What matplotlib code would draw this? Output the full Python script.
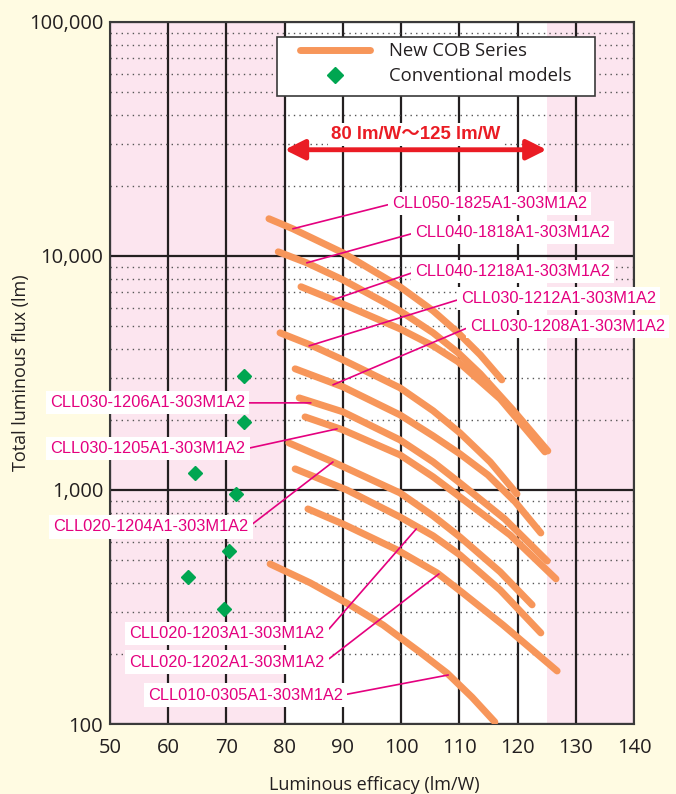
import matplotlib.pyplot as plt
from matplotlib.ticker import FixedLocator, LogLocator, NullFormatter, FuncFormatter
from matplotlib.patches import Rectangle
from matplotlib.lines import Line2D

plt.rcParams['font.family'] = ['Open Sans', 'DejaVu Sans']

# New COB series curves (efficacy lm/W, total flux lm)
curve_names = [
    'CLL050-1825A1-303M1A2', 'CLL040-1818A1-303M1A2', 'CLL040-1218A1-303M1A2',
    'CLL030-1212A1-303M1A2', 'CLL030-1208A1-303M1A2', 'CLL030-1206A1-303M1A2',
    'CLL030-1205A1-303M1A2', 'CLL020-1204A1-303M1A2', 'CLL020-1203A1-303M1A2',
    'CLL020-1202A1-303M1A2', 'CLL010-0305A1-303M1A2',
]
curve_eff = [
    [77.3, 81.4, 90.0, 99.8, 105.5, 109.8, 113.6, 117.3],
    [78.9, 83.8, 90.0, 99.8, 105.5, 109.8, 113.6, 119.2, 125.2],
    [82.8, 88.3, 99.8, 105.5, 109.8, 117.0, 124.7],
    [79.2, 84.4, 90.0, 99.8, 105.5, 110.1, 115.3, 119.9],
    [81.8, 90.0, 99.8, 105.5, 110.1, 114.9, 119.6, 124.0],
    [82.5, 90.0, 99.8, 105.5, 110.1, 117.8, 125.1],
    [83.5, 90.0, 99.8, 105.5, 110.1, 118.7, 126.6],
    [80.7, 88.3, 99.8, 105.5, 110.1, 117.0, 122.5],
    [81.8, 90.7, 99.8, 105.5, 110.1, 117.0, 124.0],
    [84.0, 90.0, 99.3, 106.2, 110.6, 117.5, 126.8],
    [77.5, 84.4, 91.2, 96.9, 103.2, 107.9, 112.2, 116.1],
]
curve_flux = [
    [14430, 13070, 10320, 7390, 5830, 4695, 3780, 2956],
    [10420, 9350, 7910, 5830, 4695, 3857, 3136, 2200, 1469],
    [7390, 6500, 4884, 4130, 3530, 2452, 1455],
    [4695, 4170, 3600, 2733, 2180, 1754, 1318, 962],
    [3295, 2760, 2094, 1703, 1427, 1160, 889, 655],
    [2475, 2158, 1637, 1318, 1072, 752, 497],
    [2053, 1807, 1413, 1138, 934, 643, 417],
    [1590, 1318, 972, 775, 630, 447, 323],
    [1231, 1000, 767, 637, 528, 374, 245],
    [830, 716, 555, 442, 363, 265, 168.5],
    [483, 401, 323, 265, 203, 165, 130, 102],
]

# conventional models
conv_eff = [73.1, 73.1, 64.6, 71.7, 70.4, 63.4, 69.5]
conv_flux = [3080, 1955, 1180, 960, 549, 424, 309]

# where each leader line touches its curve, and where the label sits
label_xy = [(81.4, 13070), (83.8, 9350), (88.3, 6500), (84.2, 4130), (88.3, 2815),
            (84.5, 2357), (89.0, 1825), (88.3, 1318), (102.6, 682), (106.5, 438),
            (108.1, 162)]
label_txt_xy = [(98.4, 16720), (102.4, 12570), (102.4, 8560), (110.3, 6560), (111.8, 4980),
                (73.2, 2357), (73.3, 1499), (73.8, 695), (86.9, 243), (86.9, 184),
                (90.0, 133)]
label_ha = ['left'] * 5 + ['right'] * 6

x_ticks = [50, 60, 70, 80, 90, 100, 110, 120, 130, 140]
y_ticks = [100, 1000, 10000, 100000]
range_lo, range_hi = 80, 125

CREAM = '#fffbe2'
PINK = '#fce5ef'
ORANGE = '#f7965a'
GREEN = '#00a651'
MAGENTA = '#e4007f'
RED = '#ea1c24'
DARK = '#231f20'

fig = plt.figure(figsize=(6.76, 7.94), dpi=100, facecolor=CREAM)
ax = fig.add_axes([110 / 676, 70 / 794, 524 / 676, 702 / 794])
ax.set_facecolor('white')
ax.set_yscale('log')
ax.set_xlim(50, 140)
ax.set_ylim(100, 100000)

ax.axvspan(50, range_lo, color=PINK, lw=0, zorder=0)
ax.axvspan(range_hi, 140, color=PINK, lw=0, zorder=0)

ax.xaxis.set_major_locator(FixedLocator(x_ticks))
ax.yaxis.set_major_locator(FixedLocator(y_ticks))
ax.yaxis.set_major_formatter(FuncFormatter(lambda v, p: f'{int(v):,}'))
ax.yaxis.set_minor_locator(LogLocator(base=10, subs=range(2, 10)))
ax.yaxis.set_minor_formatter(NullFormatter())
ax.set_axisbelow(True)
ax.grid(which='major', color=DARK, lw=1.6)
ax.grid(which='minor', axis='y', color='#555555', ls=(0, (1, 3)), lw=1)
ax.tick_params(which='both', length=0, labelsize=14.5, colors=DARK)
ax.tick_params(axis='y', pad=5)
ax.tick_params(axis='x', pad=10)
for s in ax.spines.values():
    s.set_color('#3a3a3a')
    s.set_linewidth(1.5)

ax.set_ylabel('Total luminous flux (lm)', fontsize=13, color=DARK)
ax.yaxis.set_label_coords(-0.153, 0.5)
ax.set_xlabel('Luminous efficacy (lm/W)', fontsize=13, color=DARK)
ax.xaxis.set_label_coords(0.505, -0.074)

for eff, flux in zip(curve_eff, curve_flux):
    ax.plot(eff, flux, color=ORANGE, lw=5, solid_capstyle='round',
            solid_joinstyle='round', zorder=3)

ax.plot(conv_eff, conv_flux, 'D', color=GREEN, ms=7, ls='none', zorder=3)

for name, xy, txy, ha in zip(curve_names, label_xy, label_txt_xy, label_ha):
    ax.annotate(name, xy=xy, xytext=txy, ha=ha, va='center', color=MAGENTA,
                fontsize=11.8, family=['Liberation Sans', 'DejaVu Sans'],
                bbox=dict(boxstyle='square,pad=0.25', fc='white', ec='none'),
                arrowprops=dict(arrowstyle='-', color=MAGENTA, lw=1.2, shrinkA=0, shrinkB=0,
                                relpos=(0, 0.5) if ha == 'left' else (1, 0.5)),
                zorder=4, annotation_clip=False)

# 80 lm/W ~ 125 lm/W range arrow
ax.annotate('', xy=(range_lo, 28450), xytext=(range_hi, 28450),
            arrowprops=dict(arrowstyle='<|-|>,head_length=0.6,head_width=0.3',
                            color=RED, lw=3.5, shrinkA=0, shrinkB=0, mutation_scale=20),
            zorder=4)
ax.text((range_lo + range_hi) / 2, 33000, '80 lm/W～125 lm/W', ha='center', va='center',
        color=RED, fontsize=13.4, fontweight='bold',
        family=['Liberation Sans', 'Noto Sans CJK JP'],
        bbox=dict(boxstyle='square,pad=0.15', fc='white', ec='none'), zorder=4)

# legend box
ax.add_patch(Rectangle((0.319, 0.8946), 0.607, 0.084, transform=ax.transAxes,
                       fc='white', ec='#3a3a3a', lw=1.2, zorder=5))
handles = [Line2D([], [], color=ORANGE, lw=5, solid_capstyle='round'),
           Line2D([], [], marker='D', color=GREEN, ls='none', ms=8)]
leg = ax.legend(handles, ['New COB Series', 'Conventional models'], loc='upper left',
                bbox_to_anchor=(0.3626, 0.9715), frameon=False, fontsize=13.3,
                handlelength=3.8, handletextpad=1.0, labelspacing=0.4,
                borderpad=0, borderaxespad=0, labelcolor=DARK)
leg.set_zorder(6)

fig.savefig('out.png', dpi=100, facecolor=CREAM)
